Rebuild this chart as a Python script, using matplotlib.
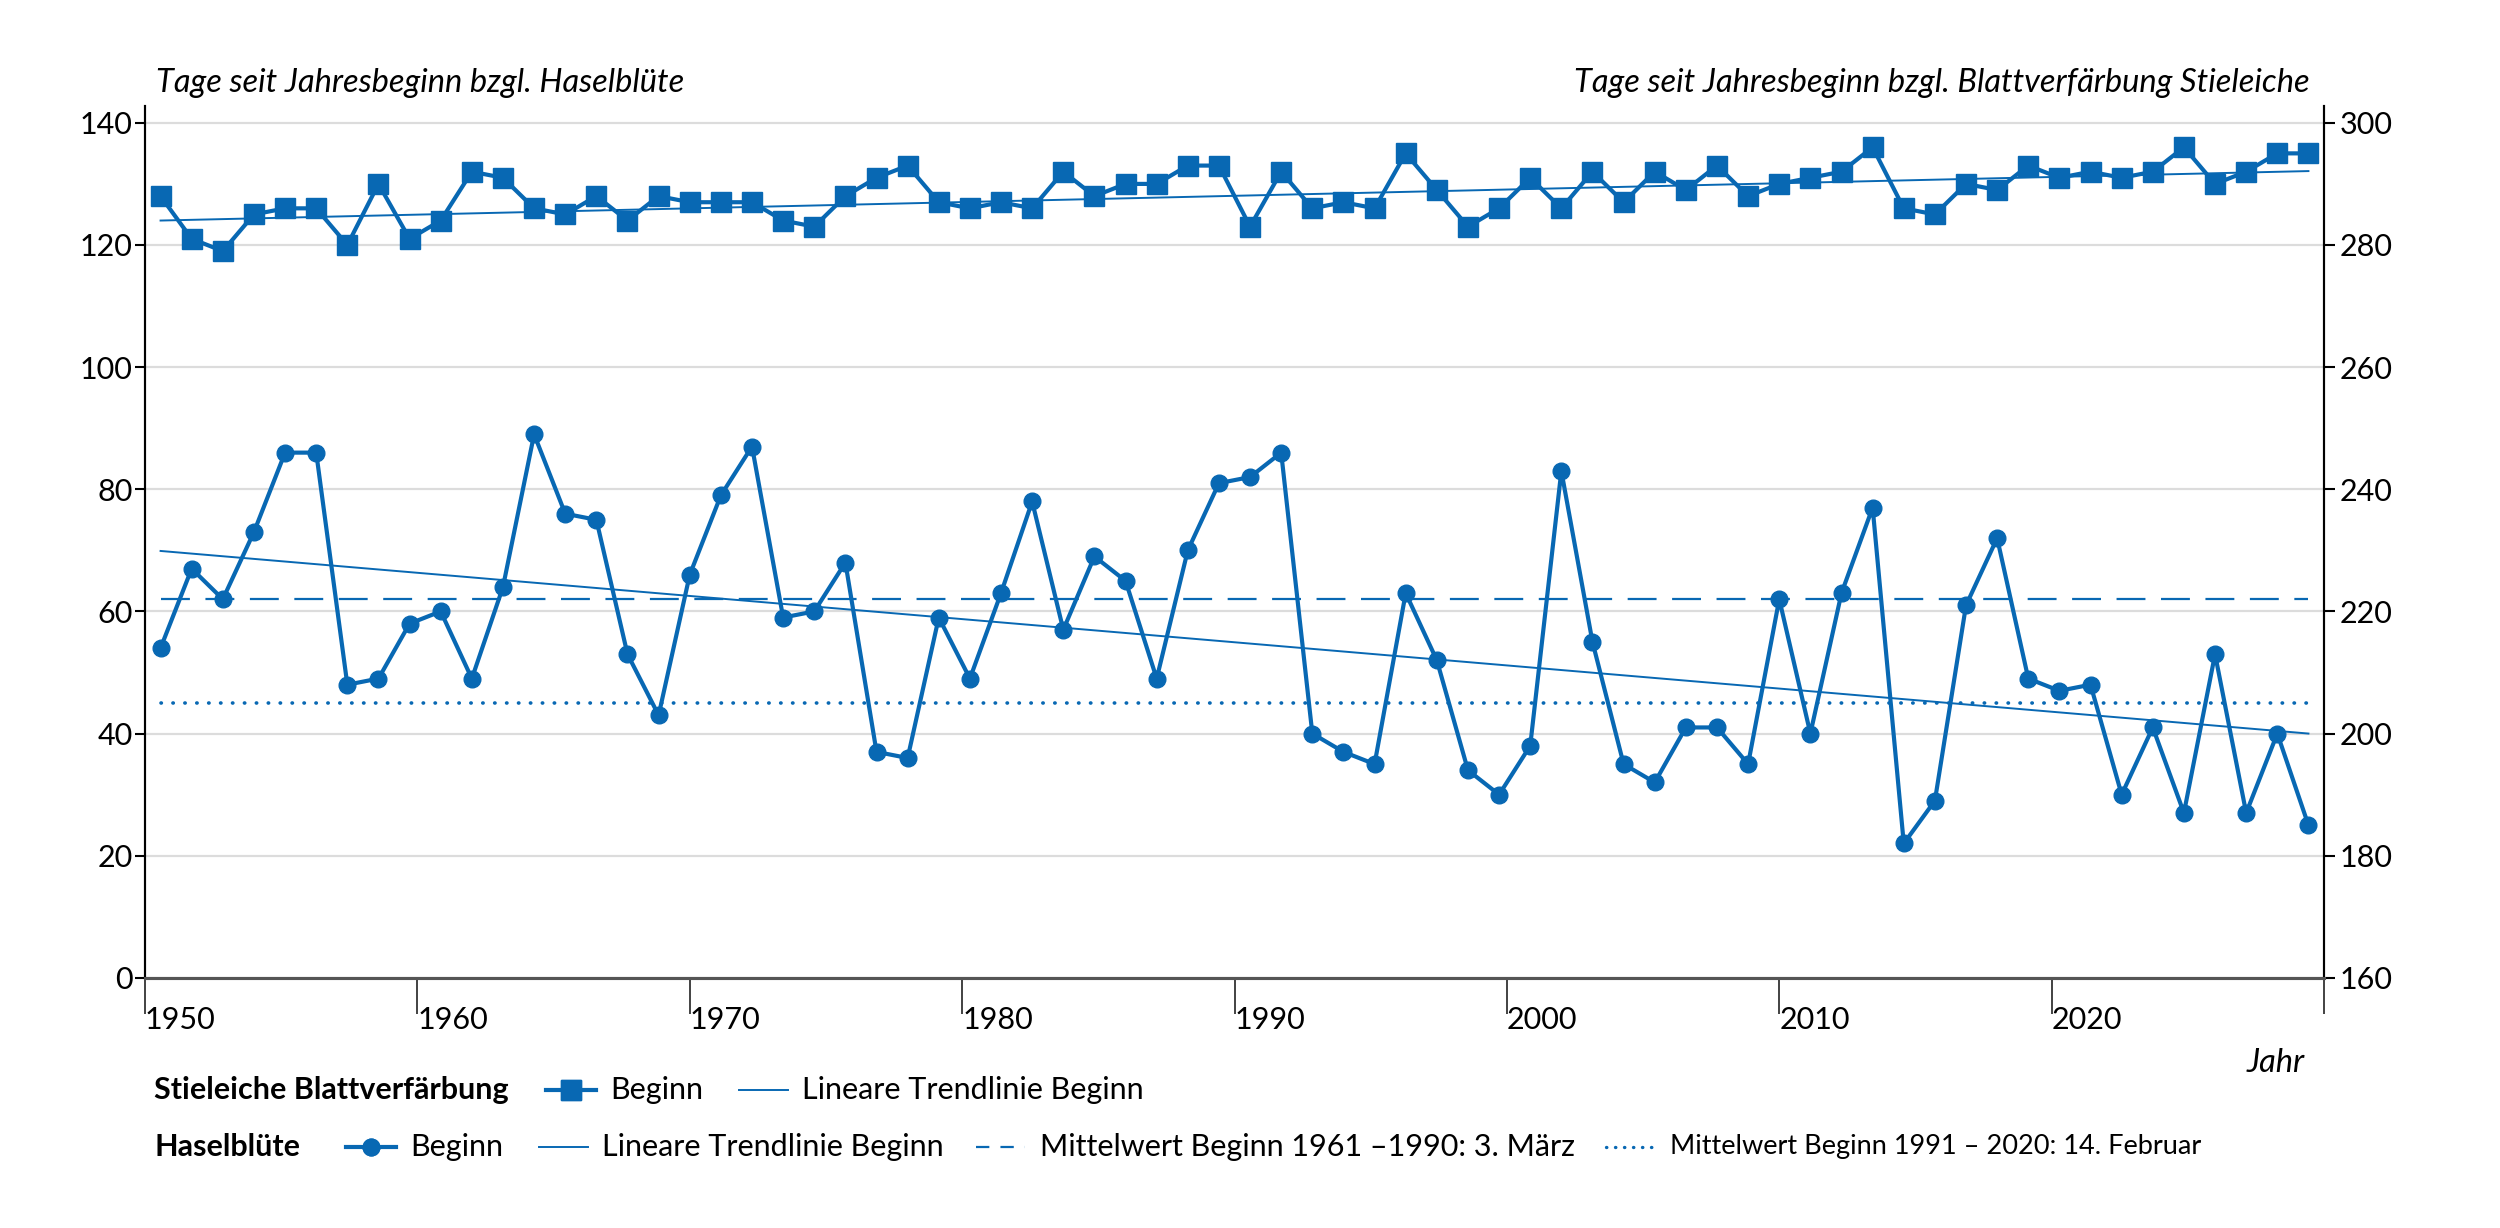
import matplotlib
matplotlib.use('Agg')
import matplotlib.pyplot as plt
import matplotlib.transforms as mtransforms
from matplotlib.lines import Line2D

plt.rcParams['font.family'] = ['Lato', 'DejaVu Sans']

# Haselblüte: Beginn, Tage seit Jahresbeginn (linke Achse)
hasel = [54, 67, 62, 73, 86, 86, 48, 49, 58, 60, 49, 64, 89, 76, 75, 53, 43, 66, 79, 87,
         59, 60, 68, 37, 36, 59, 49, 63, 78, 57, 69, 65, 49, 70, 81, 82, 86, 40, 37, 35,
         63, 52, 34, 30, 38, 83, 55, 35, 32, 41, 41, 35, 62, 40, 63, 77, 22, 29, 61, 72,
         49, 47, 48, 30, 41, 27, 53, 27, 40, 25]
# Stieleiche Blattverfärbung: Beginn (rechte Achse)
eiche = [288, 281, 279, 285, 286, 286, 280, 290, 281, 284, 292, 291, 286, 285, 288, 284, 288, 287, 287, 287,
         284, 283, 288, 291, 293, 287, 286, 287, 286, 292, 288, 290, 290, 293, 293, 283, 292, 286, 287, 286,
         295, 289, 283, 286, 291, 286, 292, 287, 292, 289, 293, 288, 290, 291, 292, 296, 286, 285, 290, 289,
         293, 291, 292, 291, 292, 296, 290, 292, 295, 295]
hasel_trend = [69.9, 40.0]
eiche_trend = [284.0, 292.1]
mittel_1961_1990 = 62   # 3. März
mittel_1991_2020 = 45   # 14. Februar
jahr_labels = ['1950', '1960', '1970', '1980', '1990', '2000', '2010', '2020']

blau = '#0868b3'
x = list(range(len(hasel)))
n = len(hasel)

fig = plt.figure(figsize=(25, 12.28), dpi=100)
ax = fig.add_axes([0.058, 0.2037, 0.9296 - 0.058, 0.9139 - 0.2037])
ax2 = ax.twinx()

# Haselblüte
ax.plot(x, hasel, color=blau, lw=3, marker='o', ms=12, zorder=5)
ax.plot([x[0], x[-1]], hasel_trend, color=blau, lw=1.4, zorder=4)
ax.plot([x[0], x[-1]], [mittel_1961_1990] * 2, color=blau, lw=1.6, dashes=(13, 7), zorder=4)
ax.plot([x[0], x[-1]], [mittel_1991_2020] * 2, color=blau, lw=2.6, dashes=(0.1, 3.2),
        dash_capstyle='round', zorder=4)

# Stieleiche
ax2.plot(x, eiche, color=blau, lw=3, marker='s', ms=14, zorder=5)
ax2.plot([x[0], x[-1]], eiche_trend, color=blau, lw=1.4, zorder=4)

ax.set_xlim(-0.5, n - 0.5)
ax.set_ylim(0, 142.8)
ax2.set_ylim(160, 302.8)
ax.set_yticks(range(0, 141, 20))
ax2.set_yticks(range(160, 301, 20))
ax.yaxis.grid(True, color='#dcdcdc', lw=1.6)
ax.set_axisbelow(True)

xt = [-0.5 + k * n / 8 for k in range(9)]
ax.set_xticks(xt)
ax.set_xticklabels(jahr_labels + [''], ha='left')
offset = mtransforms.ScaledTranslation(0.12, 0, fig.dpi_scale_trans)
for lab in ax.get_xticklabels():
    lab.set_transform(lab.get_transform() + offset)
ax.tick_params(axis='x', length=26, width=1.2, pad=-6, labelsize=22, color='#222222')
ax.tick_params(axis='y', length=7, width=1.5, pad=2, labelsize=22)
ax2.tick_params(axis='y', length=8, width=1.5, pad=3, labelsize=22)
ax2.tick_params(axis='x', length=0)

for a in (ax, ax2):
    a.spines['top'].set_visible(False)
    a.spines['left'].set_linewidth(1.5)
    a.spines['right'].set_linewidth(1.5)
    a.spines['bottom'].set_color('#555555')
    a.spines['bottom'].set_linewidth(2.2)

fig.text(0.0625, 0.9324, 'Tage seit Jahresbeginn bzgl. Haselblüte', style='italic',
         fontsize=23.5, va='center', ha='left')
fig.text(0.924, 0.9324, 'Tage seit Jahresbeginn bzgl. Blattverfärbung Stieleiche', style='italic',
         fontsize=23.5, va='center', ha='right')
fig.text(0.9217, 0.1345, 'Jahr', style='italic', fontsize=23.5, va='center', ha='right')

# Legende
y1, y2 = 0.1125, 0.066


def leg_line(x0, x1, y, **kw):
    fig.add_artist(Line2D([x0, x1], [y, y], transform=fig.transFigure, color=blau, **kw))


fig.text(0.0617, y1, 'Stieleiche Blattverfärbung', fontweight='bold', fontsize=22, va='center')
leg_line(0.2183, 0.2383, y1, lw=3)
leg_line(0.2283, 0.2283, y1, marker='s', ms=14, lw=0)
fig.text(0.2442, y1, 'Beginn', fontsize=22, va='center')
leg_line(0.2956, 0.3152, y1, lw=1.4)
fig.text(0.3207, y1, 'Lineare Trendlinie Beginn', fontsize=22, va='center')

fig.text(0.0617, y2, 'Haselblüte', fontweight='bold', fontsize=22, va='center')
leg_line(0.1382, 0.1582, y2, lw=3)
leg_line(0.1482, 0.1482, y2, marker='o', ms=12, lw=0)
fig.text(0.1640, y2, 'Beginn', fontsize=22, va='center')
leg_line(0.2155, 0.2350, y2, lw=1.4)
fig.text(0.2406, y2, 'Lineare Trendlinie Beginn', fontsize=22, va='center')
leg_line(0.3905, 0.4100, y2, lw=1.6, dashes=(6, 5))
fig.text(0.4160, y2, 'Mittelwert Beginn 1961 –1990: 3. März', fontsize=22, va='center')
leg_line(0.6424, 0.6640, y2, lw=2.4, dashes=(0.1, 2.6), dash_capstyle='round')
fig.text(0.6682, y2, 'Mittelwert Beginn 1991 – 2020: 14. Februar', fontsize=19.5, va='center')

fig.savefig('out.png', dpi=100, facecolor='white')
